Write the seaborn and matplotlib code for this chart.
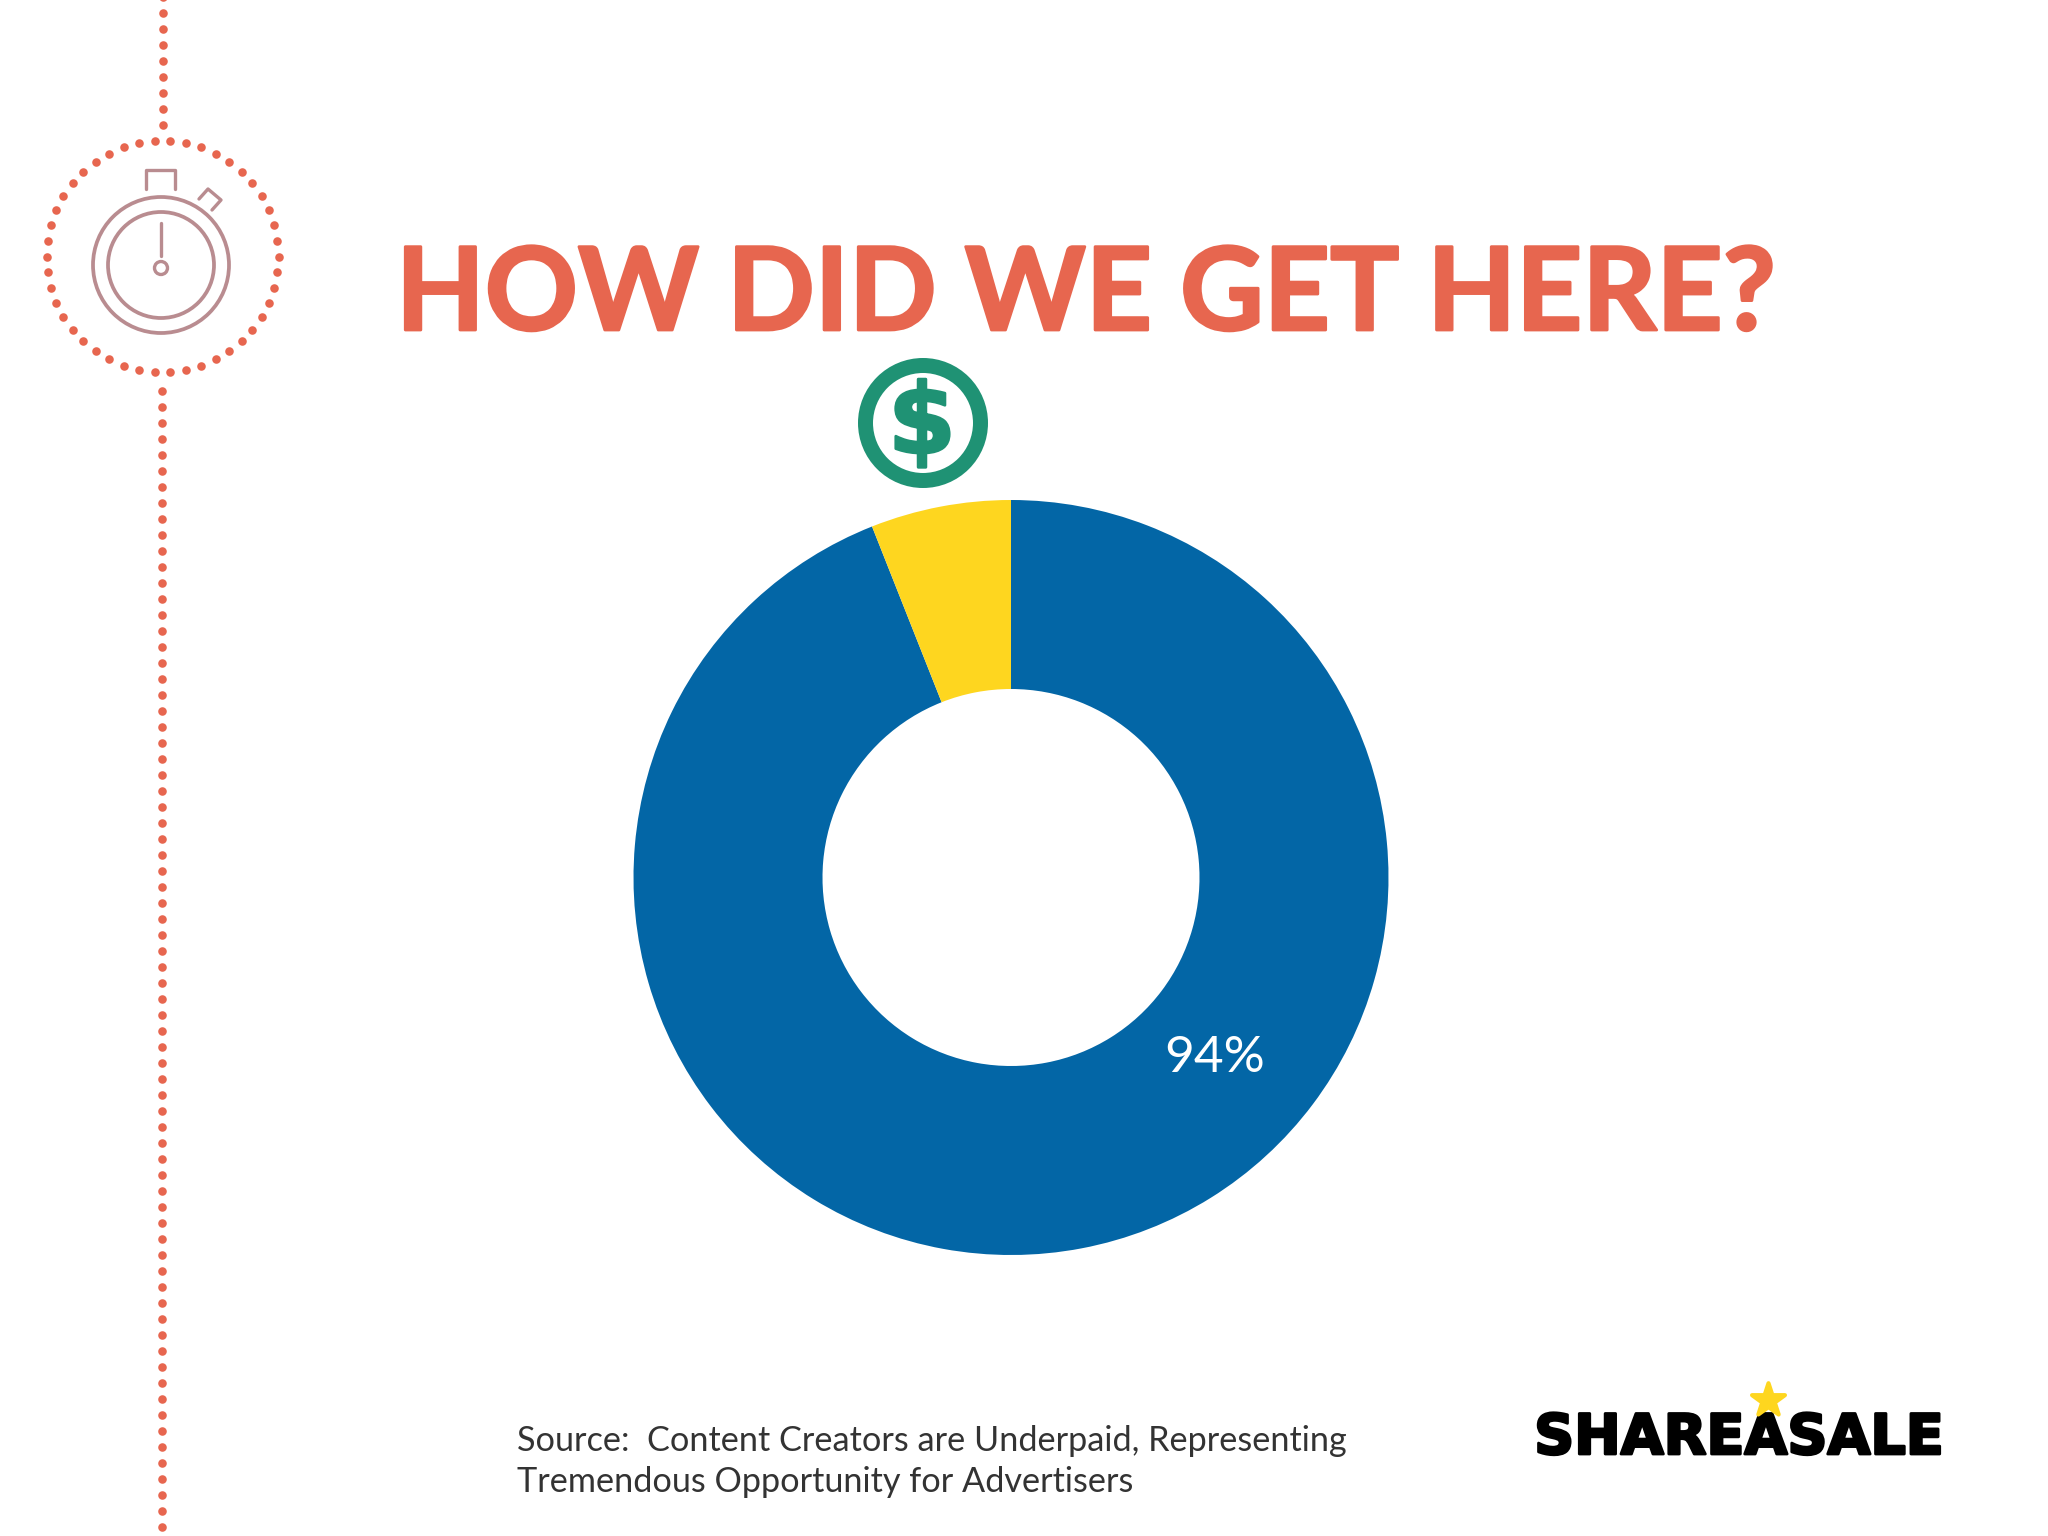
import numpy as np
import matplotlib
matplotlib.use("Agg")
import matplotlib.pyplot as plt
import matplotlib.patheffects as pe
from matplotlib.patches import Circle
import seaborn as sns

# chart data
slices = ["Paid", "Unpaid"]
shares = [94, 6]
slice_colors = ["#0366A6", "#FED61F"]
label_text = "94%"
title_text = "HOW DID WE GET HERE?"
source_lines = ["Source:  Content Creators are Underpaid, Representing",
                "Tremendous Opportunity for Advertisers"]
logo_text = "SHAREASALE"

orange = "#E7664F"
rose = "#B98C90"
green = "#1F9274"

sns.set_theme(style="white")
plt.rcParams["font.family"] = ["Lato", "DejaVu Sans"]

W, H = 2048, 1536
fig = plt.figure(figsize=(W / 100, H / 100), dpi=100, facecolor="white")

# page axes in pixels, y going down
page = fig.add_axes([0, 0, 1, 1])
page.set_xlim(0, W)
page.set_ylim(H, 0)
page.axis("off")

# dotted timeline and ring
n_ring = 46
t = (np.arange(n_ring) + 0.5) / n_ring * 2 * np.pi
ring_x = 162.5 + 116 * np.sin(t)
ring_y = 256.5 - 116 * np.cos(t)
top_y = np.arange(-3, 126, 16)
low_y = np.arange(391, 1537, 16)
dots_x = np.concatenate([ring_x, np.full(len(top_y), 163), np.full(len(low_y), 161.5)])
dots_y = np.concatenate([ring_y, top_y, low_y])
sns.scatterplot(x=dots_x, y=dots_y, ax=page, color=orange, s=38, linewidth=0, legend=False)

# stopwatch icon
for r in [68, 53]:
    page.add_patch(Circle((161, 265), r, fill=False, ec=rose, lw=2.7))
page.add_patch(Circle((161, 268), 6.5, fill=False, ec=rose, lw=2.4))
page.plot([160.5, 160.5], [223, 256], color=rose, lw=2.4)
page.plot([146, 146, 175, 175], [189, 169.5, 169.5, 189], color=rose, lw=2.4)
page.plot([199, 208, 221, 212], [199, 189, 200, 210], color=rose, lw=2.4)

# title
page.text(396, 330, title_text, color=orange, fontsize=83, fontweight="bold",
          ha="left", va="baseline",
          path_effects=[pe.withStroke(linewidth=2, foreground=orange)])

# dollar badge
page.add_patch(Circle((923, 423), 57.5, fill=False, ec=green, lw=10.8))
page.text(922, 453, "$", color=green, fontsize=70, fontweight="bold",
          family=["DejaVu Sans"], ha="center", va="baseline",
          path_effects=[pe.withStroke(linewidth=2, foreground=green)])

# source note
page.text(517, 1451, source_lines[0], color="#333333", fontsize=24.7, fontweight="normal",
          ha="left", va="baseline")
page.text(517, 1492, source_lines[1], color="#333333", fontsize=24.7, fontweight="normal",
          ha="left", va="baseline")

# logo
page.text(1739, 1454, logo_text, color="black", fontsize=40, fontweight="bold",
          family=["DejaVu Sans"], ha="center", va="baseline",
          path_effects=[pe.withStroke(linewidth=2, foreground="black")])
page.scatter([1768], [1400], marker="*", s=620, color="#FED61F", edgecolor="#FED61F",
             linewidth=3, zorder=3)

# donut
cx, cy, R, r_in = 1011, 877.5, 377.5, 188.5
ax = fig.add_axes([(cx - R) / W, 1 - (cy + R) / H, 2 * R / W, 2 * R / H])
ax.pie(shares, colors=slice_colors, startangle=90, counterclock=False, radius=1,
       wedgeprops={"width": 1 - r_in / R, "linewidth": 0})
ax.set_xlim(-1, 1)
ax.set_ylim(-1, 1)
ax.axis("off")
ax.text(204 / R, -181 / R, label_text, color="white", fontsize=37, ha="center", va="center")

fig.savefig("out.png", dpi=100, facecolor="white")
